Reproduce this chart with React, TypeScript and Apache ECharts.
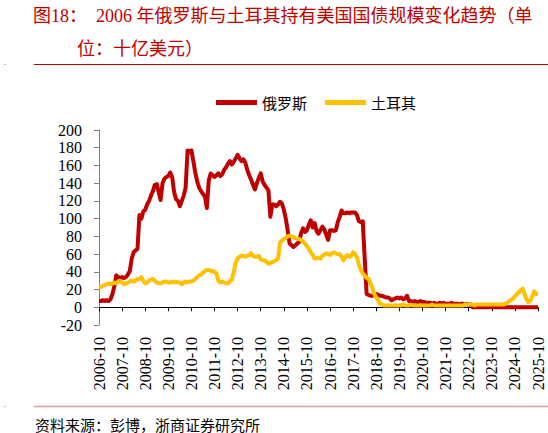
import * as echarts from "echarts";
import { useEffect, useRef } from "react";

// monthly categories, 2006-10 .. 2025-10
const months: string[] = [];
for (let i = 0; i < 229; i++) {
  const t = 2006 * 12 + 9 + i;
  const y = Math.floor(t / 12);
  const m = (t % 12) + 1;
  months.push(`${y}-${String(m).padStart(2, "0")}`);
}

const seriesNames = ["俄罗斯", "土耳其"];

// 十亿美元
const russia = [
  7, 7, 8, 7, 8, 7, 9, 15, 24, 36, 34, 33,
  34, 33, 34, 37, 41, 55, 62, 64, 66, 104, 100, 108,
  110, 116, 120, 126, 131, 138, 139, 130, 121, 140, 145, 147,
  148, 152, 147, 130, 122, 120, 114, 120, 126, 135, 177, 175,
  177, 165, 152, 142, 135, 131, 128, 125, 112, 143, 151, 149,
  147, 149, 151, 148, 150, 155, 158, 162, 165, 161, 164, 168,
  172, 168, 165, 167, 163, 155, 149, 144, 138, 133, 140, 146,
  151, 142, 138, 135, 132, 102, 116, 116, 114, 116, 119, 117,
  110, 100, 87, 72, 70, 68, 70, 72, 74, 84, 89, 85,
  87, 93, 98, 90, 95, 86, 83, 87, 91, 88, 82, 76,
  87, 87, 86, 87, 96, 102, 109, 106, 106, 107, 106, 107,
  107, 107, 104, 97, 96, 97, 55, 15, 14, 13, 13, 14,
  15, 14, 13, 13, 12, 11, 11, 10, 8, 9, 10, 11,
  10, 11, 9, 10, 13, 7, 7, 6, 7, 6, 6, 7,
  6, 6, 5, 5, 5, 4, 5, 4, 4, 5, 4, 5,
  4, 4, 4, 5, 4, 4, 4, 3, 4, 4, 3, 4,
  3, 3, 0.1, 0.1, 0.1, 0.2, 0.1, 0.1, 0.1, 0.1, 0.1, 0.1,
  0.1, 0.1, 0.1, 0.1, 0.1, 0.1, 0.1, 0.1, 0.1, 0.1, 0.1, 0.1,
  0.1, 0.1, 0.1, 0.1, 0.1, 0.1, 0.1, 0.1, 0.1, 0.1, 0.1, 0.1,
  0.1,
];

const turkey = [
  23, 23, 24, 25, 26, 27, 26, 27, 28, 27, 29, 30,
  28, 26, 27, 28, 29, 30, 29, 30, 32, 32, 34, 30,
  27, 28, 30, 31, 32, 30, 28, 27, 27, 28, 29, 29,
  28, 28, 29, 28, 29, 28, 28, 26, 28, 29, 28, 29,
  29, 30, 32, 34, 36, 37, 39, 41, 42, 42, 41, 41,
  40, 38, 30, 28, 29, 28, 27, 27, 29, 31, 40, 50,
  55, 57, 58, 58, 57, 58, 59, 61, 58, 57, 57, 58,
  54, 53, 53, 51, 49, 50, 51, 52, 53, 55, 73, 75,
  77, 78, 80, 81, 80, 79, 78, 77, 77, 76, 74, 72,
  69, 66, 62, 59, 55, 55, 56, 55, 58, 59, 61, 60,
  59, 61, 62, 61, 60, 60, 57, 53, 57, 59, 57, 58,
  62, 60, 56, 48, 42, 38, 36, 33, 32, 27, 22, 15,
  11, 8, 4, 3, 2, 2, 2, 2, 2, 2, 2, 2,
  2, 2, 3, 2, 2, 2, 3, 2, 2, 2, 2, 2,
  2, 2, 2, 2, 2, 3, 2, 2, 2, 2, 2, 2,
  2, 2, 2, 2, 2, 2, 2, 2, 2, 2, 3, 3,
  3, 3, 3, 2, 3, 3, 3, 3, 3, 3, 3, 3,
  3, 3, 3, 3, 3, 3, 3, 4, 5, 7, 8, 10,
  12, 15, 17, 19, 21, 15, 9, 6, 7, 12, 18, 15,
  15,
];

const titleLine1 = "图18：  2006 年俄罗斯与土耳其持有美国国债规模变化趋势（单";
const titleLine2 = "位：十亿美元）";
const sourceText = "资料来源：彭博，浙商证券研究所";

const SERIF = "'Liberation Serif', 'Noto Sans CJK SC', serif";
const CJK = "'Noto Sans CJK SC', sans-serif";
const RED = "#C00000";
const YELLOW = "#FFC000";

export default function App() {
  const chartRef = useRef<HTMLDivElement>(null);

  useEffect(() => {
    if (!chartRef.current) return;
    const chart = echarts.init(chartRef.current, undefined, { renderer: "svg" });

    chart.setOption({
      animation: false,
      backgroundColor: "#fff",
      legend: {
        left: 211,
        top: 90,
        itemWidth: 41,
        itemHeight: 5,
        itemGap: 18,
        icon: "rect",
        data: seriesNames,
        textStyle: { fontFamily: CJK, fontSize: 15, color: "#000" },
      },
      grid: { left: 99, right: 10, top: 130, bottom: 108 },
      xAxis: {
        type: "category",
        data: months,
        boundaryGap: false,
        axisLine: { onZero: true, lineStyle: { color: "#000", width: 1 } },
        axisTick: { interval: 11, length: 4, lineStyle: { color: "#000" } },
        axisLabel: {
          interval: 11,
          rotate: 90,
          margin: 12,
          fontFamily: SERIF,
          fontSize: 16,
          color: "#000",
        },
        splitLine: { show: false },
      },
      yAxis: {
        type: "value",
        min: -20,
        max: 200,
        interval: 20,
        axisLine: { show: true, lineStyle: { color: "#7F7F7F" } },
        axisTick: { show: true, length: 5, lineStyle: { color: "#7F7F7F" } },
        axisLabel: { margin: 17, fontFamily: SERIF, fontSize: 16, color: "#000" },
        splitLine: { show: false },
      },
      series: [
        {
          name: seriesNames[0],
          type: "line",
          data: russia,
          showSymbol: false,
          symbol: "none",
          color: RED,
          lineStyle: { width: 4, color: RED, join: "round" },
        },
        {
          name: seriesNames[1],
          type: "line",
          data: turkey,
          showSymbol: false,
          symbol: "none",
          color: YELLOW,
          lineStyle: { width: 4, color: YELLOW, join: "round" },
        },
      ],
      graphic: [
        {
          type: "text",
          x: 33,
          y: 16,
          style: {
            text: titleLine1,
            fontFamily: SERIF,
            fontSize: 18,
            fill: RED,
            verticalAlign: "middle",
          },
        },
        {
          type: "text",
          x: 77,
          y: 49,
          style: {
            text: titleLine2,
            fontFamily: SERIF,
            fontSize: 18,
            fill: RED,
            verticalAlign: "middle",
          },
        },
        {
          type: "line",
          shape: { x1: 34, y1: 64.5, x2: 548, y2: 64.5 },
          style: { stroke: RED, lineWidth: 1 },
        },
        {
          type: "line",
          shape: { x1: 34, y1: 406.5, x2: 548, y2: 406.5 },
          style: { stroke: "#E29A9A", lineWidth: 1.5 },
        },
        {
          type: "line",
          shape: { x1: 4, y1: 64.5, x2: 6, y2: 64.5 },
          style: { stroke: "#BBBBBB", lineWidth: 1 },
        },
        {
          type: "line",
          shape: { x1: 4, y1: 406.5, x2: 6, y2: 406.5 },
          style: { stroke: "#BBBBBB", lineWidth: 1 },
        },
        {
          type: "text",
          x: 35,
          y: 424,
          style: {
            text: sourceText,
            fontFamily: CJK,
            fontSize: 15,
            lineHeight: 15,
            fill: "#000",
            verticalAlign: "middle",
          },
        },
      ],
    });

    return () => {
      chart.dispose();
    };
  }, []);

  return (
    <div
      ref={chartRef}
      style={{ position: "fixed", left: 0, top: 0, width: "548px", height: "433px" }}
    />
  );
}
